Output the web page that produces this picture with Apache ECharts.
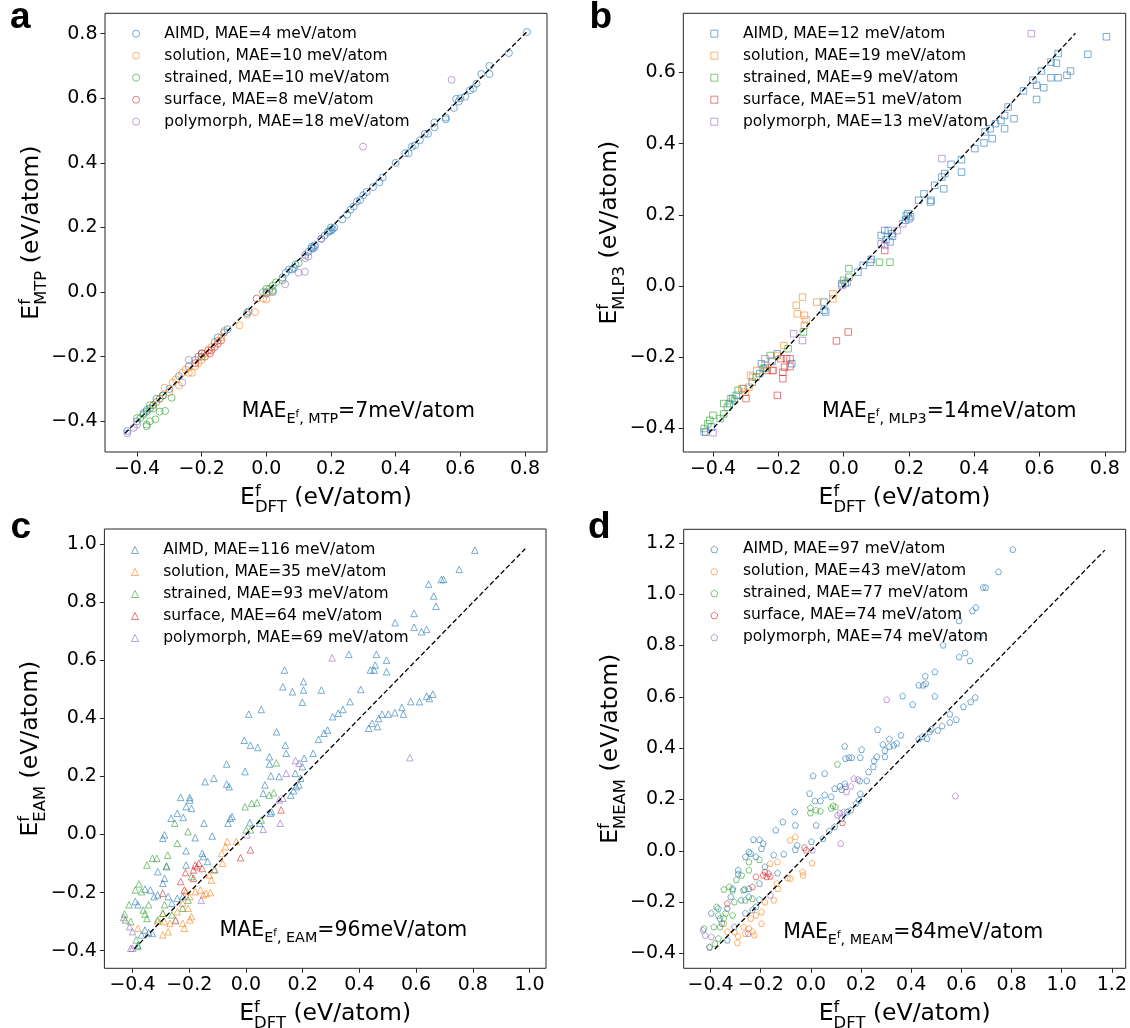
<!DOCTYPE html>
<html><head><meta charset="utf-8">
<script src="https://cdn.jsdelivr.net/npm/echarts@6/dist/echarts.min.js"></script>
<style>html,body{margin:0;padding:0;background:#fff}#c{width:1130px;height:1028px}</style>
</head><body><div id="c"></div>
<script>
// ---------------- DATA ----------------
const categories = ['AIMD', 'solution', 'strained', 'surface', 'polymorph'];
const colors = ['#1f77b4', '#ff7f0e', '#2ca02c', '#d62728', '#9467bd'];

const maeA = [4, 10, 10, 8, 18];
const maeB = [12, 19, 9, 51, 13];
const maeC = [116, 35, 93, 64, 69];
const maeD = [97, 43, 77, 74, 74];
const totalMae = [7, 14, 96, 84];
const methods = ['MTP', 'MLP3', 'EAM', 'MEAM'];

const ticksA_x = [-0.4, -0.2, 0.0, 0.2, 0.4, 0.6, 0.8];
const ticksA_y = [-0.4, -0.2, 0.0, 0.2, 0.4, 0.6, 0.8];
const ticksB_x = [-0.4, -0.2, 0.0, 0.2, 0.4, 0.6, 0.8];
const ticksB_y = [-0.4, -0.2, 0.0, 0.2, 0.4, 0.6];
const ticksC_x = [-0.4, -0.2, 0.0, 0.2, 0.4, 0.6, 0.8, 1.0];
const ticksC_y = [-0.4, -0.2, 0.0, 0.2, 0.4, 0.6, 0.8, 1.0];
const ticksD_x = [-0.4, -0.2, 0.0, 0.2, 0.4, 0.6, 0.8, 1.0, 1.2];
const ticksD_y = [-0.4, -0.2, 0.0, 0.2, 0.4, 0.6, 0.8, 1.0, 1.2];

const diagA = [-0.437, 0.806];
const diagB = [-0.413, 0.71];
const diagC = [-0.394, 0.985];
const diagD = [-0.383, 1.172];

// panel a (MTP)
const aAIMD = [[0.806,0.805],[0.75,0.74],[0.69,0.70],[0.69,0.675],[0.665,0.675],[0.65,0.645],[0.64,0.63],[0.63,0.625],[0.615,0.605],[0.60,0.60],[0.595,0.59],[0.58,0.57],[0.555,0.535],[0.555,0.54],[0.52,0.525],[0.52,0.51],[0.50,0.49],[0.49,0.49],[0.475,0.47],[0.46,0.455],[0.45,0.45],[0.44,0.43],[0.43,0.43],[0.40,0.40],[0.36,0.355],[0.35,0.34],[0.33,0.325],[0.31,0.31],[0.30,0.30],[0.29,0.285],[0.28,0.28],[0.27,0.265],[0.26,0.255],[0.25,0.24],[0.235,0.225],[0.21,0.20],[0.20,0.19],[0.19,0.185],[0.18,0.175],[0.17,0.165],[0.15,0.145],[0.14,0.135],[0.13,0.125],[0.12,0.115],[0.09,0.085],[0.08,0.07],[0.07,0.07],[0.06,0.06],[0.05,0.045],[0.02,0.0],[0.0,0.0],[-0.06,-0.065],[-0.055,-0.06],[-0.12,-0.115],[-0.13,-0.125],[-0.15,-0.14],[-0.16,-0.155],[-0.20,-0.19],[-0.22,-0.21],[-0.24,-0.23],[-0.27,-0.26],[-0.30,-0.30],[-0.33,-0.33],[-0.34,-0.33],[-0.36,-0.36],[-0.38,-0.375],[-0.40,-0.40],[-0.43,-0.43],[0.2,0.2],[0.195,0.19],[0.205,0.195],[0.14,0.14],[0.145,0.135],[0.085,0.075],[0.02,0.005],[-0.35,-0.35],[-0.37,-0.365],[-0.32,-0.32],[0.587,0.598]];
const aSolution = [[-0.315,-0.296],[-0.29,-0.28],[-0.28,-0.27],[-0.27,-0.29],[-0.26,-0.25],[-0.25,-0.24],[-0.24,-0.25],[-0.23,-0.25],[-0.22,-0.23],[-0.20,-0.21],[-0.19,-0.19],[-0.17,-0.17],[-0.15,-0.15],[-0.14,-0.14],[-0.13,-0.12],[-0.083,-0.103],[-0.06,-0.07],[-0.035,-0.062],[-0.01,-0.02],[0.0,-0.023],[0.01,0.0],[-0.33,-0.33],[-0.35,-0.35],[-0.30,-0.31],[-0.21,-0.22]];
const aStrained = [[-0.37,-0.41],[-0.36,-0.40],[-0.343,-0.394],[-0.33,-0.37],[-0.313,-0.368],[-0.293,-0.327],[-0.35,-0.36],[-0.38,-0.38],[-0.39,-0.39],[-0.37,-0.37],[-0.36,-0.35],[-0.34,-0.34],[-0.32,-0.32],[-0.37,-0.415],[0.0,0.01],[0.01,0.01],[0.02,0.02],[-0.01,0.0],[0.03,0.03],[0.05,0.037],[0.1,0.09],[-0.2,-0.2],[-0.4,-0.39]];
const aSurface = [[-0.2,-0.19],[-0.19,-0.2],[-0.18,-0.18],[-0.17,-0.18],[-0.16,-0.17],[-0.15,-0.16],[-0.22,-0.22],[-0.21,-0.2],[-0.03,-0.02],[-0.175,-0.19],[-0.14,-0.15]];
const aPolymorph = [[0.299,0.45],[0.573,0.657],[0.119,0.063],[0.10,0.06],[0.058,0.024],[0.13,0.11],[0.12,0.105],[0.15,0.14],[0.17,0.165],[-0.24,-0.21],[-0.43,-0.437],[-0.41,-0.42],[-0.26,-0.28],[0.0,-0.005],[-0.4,-0.41]];

// panel b (MLP3)
const bAIMD = [[0.805,0.70],[0.748,0.651],[0.695,0.604],[0.684,0.592],[0.657,0.585],[0.635,0.585],[0.635,0.629],[0.657,0.653],[0.652,0.626],[0.613,0.557],[0.591,0.564],[0.591,0.524],[0.58,0.578],[0.606,0.604],[0.551,0.548],[0.522,0.47],[0.493,0.442],[0.493,0.479],[0.482,0.465],[0.455,0.414],[0.43,0.402],[0.402,0.386],[0.433,0.433],[0.449,0.442],[0.465,0.456],[0.504,0.503],[0.361,0.32],[0.361,0.355],[0.329,0.342],[0.31,0.316],[0.307,0.273],[0.301,0.306],[0.279,0.283],[0.268,0.241],[0.266,0.236],[0.246,0.259],[0.23,0.241],[0.2,0.189],[0.192,0.198],[0.197,0.203],[0.148,0.147],[0.137,0.156],[0.142,0.124],[0.115,0.142],[0.126,0.156],[0.082,0.067],[0.06,0.058],[0.044,0.039],[-0.005,0.007],[0.005,0.007],[-0.06,-0.045],[-0.06,-0.068],[-0.055,-0.073],[-0.159,-0.218],[-0.203,-0.19],[-0.219,-0.211],[-0.252,-0.218],[-0.257,-0.246],[-0.329,-0.307],[-0.34,-0.316],[-0.35,-0.33],[-0.405,-0.396],[-0.422,-0.41],[-0.307,-0.288],[0.205,0.195],[0.19,0.185],[0.15,0.14],[0.13,0.13],[0.085,0.075],[-0.24,-0.23],[-0.28,-0.27]];
const bSolution = [[-0.126,-0.031],[-0.145,-0.054],[-0.142,-0.078],[-0.12,-0.082],[-0.082,-0.045],[-0.033,-0.036],[-0.033,-0.022],[-0.12,-0.11],[-0.115,-0.095],[-0.183,-0.167],[-0.203,-0.195],[-0.219,-0.237],[-0.241,-0.223],[-0.279,-0.256],[-0.29,-0.284],[-0.301,-0.298],[-0.312,-0.288],[-0.285,-0.251],[-0.266,-0.237]];
const bStrained = [[0.142,0.067],[0.11,0.067],[0.016,0.049],[0.016,0.025],[0.0,0.016],[-0.123,-0.129],[-0.17,-0.176],[-0.225,-0.195],[-0.246,-0.232],[-0.268,-0.256],[-0.323,-0.293],[-0.345,-0.316],[-0.367,-0.33],[-0.367,-0.359],[-0.4,-0.363],[-0.416,-0.387],[-0.41,-0.377],[-0.356,-0.34],[-0.334,-0.321],[-0.378,-0.372],[-0.427,-0.4]];
const bSurface = [[0.014,-0.129],[-0.022,-0.154],[-0.203,-0.307],[-0.186,-0.26],[-0.186,-0.242],[-0.181,-0.228],[-0.175,-0.204],[-0.164,-0.204],[-0.164,-0.226],[-0.192,-0.204],[-0.216,-0.237],[-0.299,-0.316],[0.126,0.1],[-0.235,-0.237]];
const bPolymorph = [[0.575,0.709],[0.301,0.358],[-0.126,-0.153],[-0.153,-0.134],[-0.4,-0.412],[-0.427,-0.41],[-0.241,-0.204],[0.126,0.114],[0.115,0.119],[0.011,0.011],[-0.005,0.002],[0.164,0.156],[0.181,0.175]];

// panel c (EAM)
const cAIMD = [[0.807,0.98],[0.752,0.914],[0.644,0.863],[0.689,0.879],[0.697,0.879],[0.662,0.822],[0.67,0.787],[0.593,0.762],[0.526,0.73],[0.593,0.714],[0.619,0.699],[0.637,0.707],[0.363,0.621],[0.46,0.621],[0.439,0.567],[0.452,0.567],[0.456,0.584],[0.496,0.601],[0.496,0.561],[0.136,0.567],[0.13,0.509],[0.164,0.492],[0.203,0.527],[0.203,0.498],[0.199,0.456],[0.266,0.498],[0.405,0.5],[0.367,0.458],[0.555,0.415],[0.55,0.438],[0.581,0.458],[0.612,0.458],[0.637,0.477],[0.647,0.469],[0.659,0.484],[0.525,0.42],[0.502,0.415],[0.48,0.415],[0.468,0.4],[0.445,0.383],[0.433,0.366],[0.464,0.372],[0.342,0.431],[0.306,0.406],[0.325,0.418],[0.288,0.36],[0.275,0.349],[0.256,0.328],[0.237,0.28],[0.205,0.263],[0.199,0.234],[0.174,0.211],[0.01,0.415],[0.054,0.431],[-0.006,0.325],[0.016,0.308],[0.042,0.3],[0.108,0.354],[0.139,0.308],[0.142,0.28],[0.083,0.268],[0.083,0.243],[0.088,0.202],[0.117,0.2],[0.067,0.171],[0.061,0.142],[-0.003,0.217],[-0.068,0.243],[-0.068,0.174],[-0.059,0.165],[-0.113,0.194],[-0.144,0.182],[-0.23,0.128],[-0.198,0.128],[-0.198,0.119],[-0.211,0.096],[-0.192,0.09],[-0.242,0.073],[-0.264,0.056],[-0.221,0.059],[-0.148,0.039],[-0.179,-0.011],[-0.211,-0.056],[-0.119,-0.005],[-0.063,0.039],[-0.055,0.056],[-0.049,0.062],[-0.293,-0.013],[-0.287,-0.001],[-0.311,-0.128],[-0.28,-0.108],[-0.211,-0.105],[-0.154,-0.065],[-0.15,-0.076],[-0.135,-0.093],[-0.11,-0.12],[-0.293,-0.168],[-0.287,-0.151],[-0.337,-0.191],[-0.39,-0.231],[-0.381,-0.242],[-0.356,-0.188],[-0.274,-0.214],[-0.261,-0.237],[-0.242,-0.22],[-0.223,-0.214],[-0.324,-0.214],[-0.343,-0.338],[-0.33,-0.341],[-0.368,-0.346],[-0.356,-0.329],[-0.381,-0.381],[-0.311,-0.208],[0.014,0.041],[0.048,0.039],[0.09,0.079],[0.086,0.073],[0.158,0.136],[0.168,0.151],[0.187,0.171],[0.193,0.194],[0.178,0.165]];
const cSolution = [[-0.066,-0.024],[-0.034,-0.024],[-0.072,-0.042],[-0.085,-0.065],[-0.082,-0.099],[-0.112,-0.122],[-0.129,-0.139],[-0.122,-0.157],[-0.179,-0.197],[-0.16,-0.191],[-0.15,-0.208],[-0.141,-0.203],[-0.125,-0.2],[-0.211,-0.197],[-0.198,-0.214],[-0.223,-0.237],[-0.204,-0.254],[-0.192,-0.283],[-0.198,-0.294],[-0.223,-0.306],[-0.217,-0.323],[-0.242,-0.266],[-0.287,-0.3],[-0.274,-0.335],[-0.293,-0.346],[-0.248,-0.294],[-0.268,-0.306],[-0.293,-0.271],[-0.311,-0.3],[-0.381,-0.323]];
const cStrained = [[-0.003,0.096],[0.02,0.108],[0.039,0.11],[0.082,0.136],[0.098,0.144],[0.107,0.247],[-0.251,0.039],[-0.242,-0.03],[-0.204,0.01],[-0.276,-0.071],[-0.33,-0.082],[-0.314,-0.082],[-0.349,-0.105],[-0.28,-0.111],[-0.377,-0.17],[-0.39,-0.191],[-0.368,-0.197],[-0.412,-0.242],[-0.362,-0.26],[-0.356,-0.274],[-0.343,-0.242],[-0.428,-0.274],[-0.425,-0.294],[-0.406,-0.3],[-0.349,-0.289],[-0.387,-0.363],[-0.381,-0.386],[-0.287,-0.242],[-0.293,-0.271],[-0.261,-0.277],[-0.311,-0.294],[-0.223,-0.254],[-0.204,-0.226],[-0.192,-0.145],[0.016,0.016],[0.001,0.016],[0.054,0.05]];
const cSurface = [[-0.166,-0.099],[-0.179,-0.105],[-0.173,-0.111],[-0.185,-0.122],[-0.154,-0.117],[-0.213,-0.131],[-0.185,-0.151],[-0.23,-0.162],[-0.217,-0.191],[0.124,0.085],[-0.019,-0.08],[0.016,-0.053],[-0.293,-0.202]];
const cPolymorph = [[0.304,0.609],[0.578,0.265],[0.175,0.255],[0.187,0.246],[0.142,0.211],[0.117,0.119],[0.121,0.039],[0.061,0.018],[0.13,0.125],[0.004,-0.001],[-0.158,-0.226],[-0.248,-0.297],[-0.431,-0.286],[-0.41,-0.318],[-0.4,-0.335],[-0.406,-0.392],[-0.4,-0.392]];

// panel d (MEAM)
const dAIMD = [[0.805,1.175],[0.748,1.088],[0.697,1.027],[0.687,1.027],[0.658,0.949],[0.644,0.936],[0.591,0.897],[0.672,0.837],[0.527,0.802],[0.591,0.756],[0.615,0.772],[0.634,0.741],[0.494,0.698],[0.456,0.681],[0.43,0.646],[0.448,0.646],[0.458,0.652],[0.494,0.603],[0.655,0.598],[0.637,0.581],[0.608,0.562],[0.58,0.512],[0.554,0.501],[0.554,0.533],[0.523,0.487],[0.506,0.47],[0.48,0.474],[0.473,0.464],[0.463,0.438],[0.444,0.445],[0.43,0.436],[0.366,0.604],[0.406,0.571],[0.266,0.473],[0.313,0.436],[0.313,0.407],[0.287,0.415],[0.359,0.451],[0.33,0.412],[0.342,0.419],[0.295,0.391],[0.295,0.367],[0.263,0.367],[0.252,0.351],[0.249,0.328],[0.23,0.308],[0.223,0.273],[0.202,0.395],[0.152,0.364],[0.138,0.36],[0.163,0.364],[0.197,0.364],[0.135,0.408],[0.195,0.273],[0.197,0.223],[0.192,0.198],[0.18,0.185],[0.159,0.159],[0.145,0.152],[0.135,0.262],[0.116,0.252],[0.123,0.239],[0.095,0.243],[0.081,0.211],[0.055,0.218],[0.055,0.302],[0.009,0.293],[-0.005,0.224],[0.016,0.195],[0.038,0.195],[0.021,0.1],[0.073,0.078],[0.095,0.094],[0.123,0.126],[0.048,0.048],[0.002,0.036],[-0.065,0.152],[-0.062,0.1],[-0.055,0.022],[-0.062,0.005],[-0.112,0.113],[-0.14,0.081],[-0.229,0.044],[-0.205,0.044],[-0.19,0.029],[-0.197,0.009],[-0.247,-0.004],[-0.261,-0.023],[-0.219,-0.023],[-0.24,-0.01],[-0.148,-0.016],[-0.108,-0.012],[-0.183,-0.062],[-0.29,-0.075],[-0.29,-0.09],[-0.264,-0.15],[-0.247,-0.147],[-0.312,-0.147],[-0.247,-0.179],[-0.278,-0.192],[-0.319,-0.179],[-0.333,-0.224],[-0.369,-0.224],[-0.397,-0.243],[-0.362,-0.263],[-0.355,-0.283],[-0.305,-0.296],[-0.333,-0.348],[-0.261,-0.243],[-0.233,-0.23],[-0.205,-0.19],[-0.219,-0.218],[-0.133,-0.086],[-0.205,-0.127]];
const dSolution = [[-0.062,0.055],[-0.083,0.042],[-0.133,-0.043],[0.005,-0.047],[-0.033,-0.082],[-0.031,-0.095],[-0.093,-0.105],[-0.083,-0.107],[-0.136,-0.127],[-0.131,-0.147],[-0.148,-0.192],[-0.183,-0.199],[-0.197,-0.238],[-0.219,-0.251],[-0.197,-0.283],[-0.24,-0.263],[-0.268,-0.296],[-0.247,-0.302],[-0.233,-0.315],[-0.226,-0.328],[-0.261,-0.322],[-0.29,-0.333],[-0.305,-0.315],[-0.333,-0.315],[-0.293,-0.358],[-0.347,-0.283],[-0.162,-0.049]];
const dStrained = [[0.106,0.338],[-0.002,0.168],[0.021,0.159],[0.038,0.155],[-0.002,0.148],[0.088,0.176],[0.098,0.172],[0.081,0.166],[-0.205,-0.034],[-0.247,-0.043],[-0.247,-0.075],[-0.276,-0.095],[-0.297,-0.112],[-0.326,-0.14],[-0.347,-0.15],[-0.312,-0.153],[-0.305,-0.199],[-0.261,-0.192],[-0.376,-0.218],[-0.369,-0.251],[-0.34,-0.243],[-0.347,-0.263],[-0.387,-0.296],[-0.362,-0.296],[-0.369,-0.341],[-0.383,-0.361],[-0.404,-0.374],[-0.426,-0.302],[-0.312,-0.251],[-0.233,-0.186],[-0.269,-0.153]];
const dSurface = [[-0.19,-0.095],[-0.176,-0.101],[-0.169,-0.088],[-0.162,-0.099],[-0.183,-0.082],[-0.219,-0.101],[-0.233,-0.14],[0.126,0.11],[-0.019,0.003],[-0.026,0.013],[-0.333,-0.205]];
const dPolymorph = [[0.302,0.59],[0.576,0.214],[0.171,0.282],[0.187,0.279],[0.138,0.25],[0.159,0.252],[0.142,0.23],[0.116,0.148],[0.106,0.139],[0.131,0.152],[0.119,0.029],[0.006,0.003],[-0.162,-0.173],[-0.25,-0.322],[-0.404,-0.377],[-0.421,-0.329],[-0.43,-0.309],[-0.397,-0.335]];

// ---------------- LAYOUT / STYLE ----------------
const FONT = '"DejaVu Sans", "Noto Sans", sans-serif';
const pentagon = 'path://M0,-1 L0.951,-0.309 L0.588,0.809 L-0.588,0.809 L-0.951,-0.309 Z';

const panels = [
  {letter:'a', grid:{left:105, top:13.3, width:442, height:438.7}, xr:[-0.499,0.868], yr:[-0.495,0.863],
   xt:ticksA_x, yt:ticksA_y, diag:diagA, mae:maeA, sets:[aAIMD,aSolution,aStrained,aSurface,aPolymorph],
   symbol:'circle', size:7, legend:{mx:135.6, ry:33.7, tx:163.8}, note:{x:241.8, by:418.3}, letterPos:[10,36]},
  {letter:'b', grid:{left:683.3, top:13.3, width:442.4, height:438.7}, xr:[-0.491,0.864], yr:[-0.466,0.766],
   xt:ticksB_x, yt:ticksB_y, diag:diagB, mae:maeB, sets:[bAIMD,bSolution,bStrained,bSurface,bPolymorph],
   symbol:'rect', size:6.5, legend:{mx:713.8, ry:33.7, tx:742.4}, note:{x:822.1, by:417.7}, letterPos:[589.5,36]},
  {letter:'c', grid:{left:104.4, top:529, width:441.6, height:439.3}, xr:[-0.499,1.058], yr:[-0.461,1.053],
   xt:ticksC_x, yt:ticksC_y, diag:diagC, mae:maeC, sets:[cAIMD,cSolution,cStrained,cSurface,cPolymorph],
   symbol:'triangle', size:6.5, legend:{mx:134.5, ry:550, tx:162.7}, note:{x:219.6, by:937.3}, letterPos:[10.5,546]},
  {letter:'d', grid:{left:683.7, top:529.3, width:442, height:439}, xr:[-0.507,1.255], yr:[-0.458,1.253],
   xt:ticksD_x, yt:ticksD_y, diag:diagD, mae:maeD, sets:[dAIMD,dSolution,dStrained,dSurface,dPolymorph],
   symbol:pentagon, size:6, legend:{mx:713.8, ry:549.3, tx:742.4}, note:{x:783.2, by:939}, letterPos:[588,546.5]}
];

function hexA(hex, a) {
  const n = parseInt(hex.slice(1), 16);
  return `rgba(${(n>>16)&255},${(n>>8)&255},${n&255},${a})`;
}
const fmt = v => (v < -1e-9 ? '\u2212' : '') + Math.abs(v).toFixed(1);

const mctx = document.createElement('canvas').getContext('2d');
function tw(t, fs) { mctx.font = fs + 'px "DejaVu Sans"'; return mctx.measureText(t).width; }

// segments: [text, scale, dy(fraction of base, + = down)] or stacked array of those
function mathChildren(segs, base, align) {
  let x = 0; const items = [];
  segs.forEach(s => {
    const grp = Array.isArray(s[0]) ? s : [s];
    let adv = 0;
    grp.forEach(([t, sc, dy]) => {
      const fs = base * sc; const w = tw(t, fs);
      items.push({t, fs, x, dy: dy * base}); adv = Math.max(adv, w);
    });
    x += adv;
  });
  const off = align === 'center' ? -x / 2 : 0;
  return items.map(it => ({
    type: 'text', x: off + it.x, y: it.dy - 0.3 * it.fs, silent: true,
    style: {text: it.t, fontSize: it.fs, fontFamily: FONT, fill: '#000', textAlign: 'left', verticalAlign: 'middle'}
  }));
}

const grids = [], xAxes = [], yAxes = [], series = [], legends = [], graphics = [];
const IW = 7;

panels.forEach((p, i) => {
  grids.push(Object.assign({show: true, borderColor: '#262626', borderWidth: 1, backgroundColor: 'rgba(0,0,0,0)'}, p.grid));
  const axisCommon = (ticks) => ({
    type: 'value', gridIndex: i,
    axisLine: {show: false, onZero: false},
    splitLine: {show: false},
    axisTick: {show: true, inside: false, length: 4.5, customValues: ticks, lineStyle: {color: '#262626', width: 1}},
    axisLabel: {show: true, customValues: ticks, formatter: fmt, fontSize: 19, fontFamily: FONT, color: '#000', margin: 7.5}
  });
  xAxes.push(Object.assign(axisCommon(p.xt), {min: p.xr[0], max: p.xr[1]}));
  yAxes.push(Object.assign(axisCommon(p.yt), {min: p.yr[0], max: p.yr[1]}));

  const names = [];
  categories.forEach((cat, k) => {
    const name = `${cat}, MAE=${p.mae[k]} meV/atom`;
    names.push({name, icon: p.symbol,
      itemStyle: {color: 'rgba(0,0,0,0)', borderColor: hexA(colors[k], 0.75), borderWidth: 1}});
    series.push({
      type: 'scatter', name, xAxisIndex: i, yAxisIndex: i, data: p.sets[k],
      symbol: p.symbol, symbolSize: p.size, z: 2 + k,
      itemStyle: {color: 'rgba(0,0,0,0)', borderColor: hexA(colors[k], 0.75), borderWidth: 1},
      emphasis: {disabled: true}, silent: true
    });
  });
  series.push({
    type: 'line', xAxisIndex: i, yAxisIndex: i, data: [[p.diag[0], p.diag[0]], [p.diag[1], p.diag[1]]],
    symbol: 'none', silent: true, z: 10,
    lineStyle: {color: '#000', width: 1.3, type: [5, 2.6]}
  });
  const textPad = (p.legend.tx - p.legend.mx) - (IW / 2 + 5);
  legends.push({
    orient: 'vertical', left: p.legend.mx - IW / 2, top: p.legend.ry - 8,
    itemWidth: IW, itemHeight: IW, itemGap: 6, padding: 0, selectedMode: false,
    symbolKeepAspect: true,
    textStyle: {fontSize: 15.5, fontFamily: FONT, color: '#000', lineHeight: 16, padding: [0, 0, 0, textPad]},
    data: names
  });

  // panel letter
  graphics.push({type: 'text', x: p.letterPos[0], y: p.letterPos[1], silent: true,
    style: {text: p.letter, fontSize: 37, fontWeight: 'bold', fontFamily: '"Liberation Sans", Arial, sans-serif', fill: '#000', verticalAlign: 'bottom', textAlign: 'left'}});

  const g = p.grid;
  // x-axis title
  graphics.push({type: 'group', x: g.left + g.width / 2, y: g.top + g.height + 53, silent: true,
    children: mathChildren([['E', 1, 0], [['f', 0.7, -0.36], ['DFT', 0.7, 0.33]], [' (eV/atom)', 1, 0]], 23.5, 'center')});
  // y-axis title
  graphics.push({type: 'group', x: g.left - 66, y: g.top + g.height / 2, rotation: Math.PI / 2, silent: true,
    children: mathChildren([['E', 1, 0], [['f', 0.7, -0.36], [methods[i], 0.7, 0.33]], [' (eV/atom)', 1, 0]], 23.5, 'center')});
  // total MAE annotation
  graphics.push({type: 'group', x: p.note.x, y: p.note.by, silent: true,
    children: mathChildren([['MAE', 1, 0], ['E', 0.7, 0.27], ['f', 0.5, -0.05], [', ' + methods[i], 0.7, 0.27], ['=' + totalMae[i] + 'meV/atom', 1, 0]], 20.5, 'left')});
});

const chart = echarts.init(document.getElementById('c'), null, {renderer: 'canvas'});
chart.setOption({
  animation: false,
  backgroundColor: '#fff',
  grid: grids, xAxis: xAxes, yAxis: yAxes, series, legend: legends,
  graphic: graphics
});
</script></body></html>
